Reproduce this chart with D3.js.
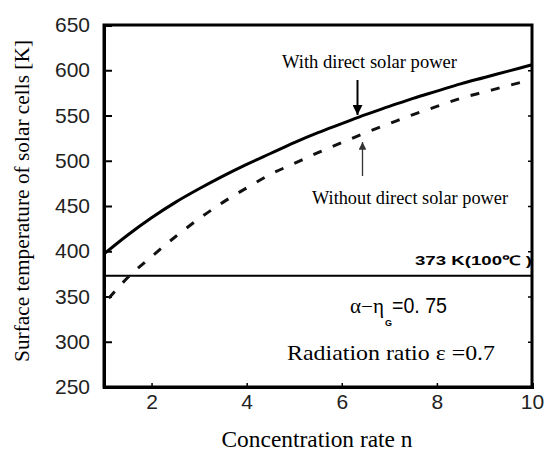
<!DOCTYPE html>
<html>
<head>
<meta charset="utf-8">
<script src="https://cdn.jsdelivr.net/npm/d3@7/dist/d3.min.js"></script>
<style>
  html, body { margin: 0; padding: 0; background: #fff; }
  svg { display: block; }
</style>
</head>
<body>
<svg id="chart" width="544" height="452"></svg>
<script>
// ---- data ----
const nWith = [1, 1.5, 2, 2.5, 3, 3.5, 4, 4.5, 5, 5.5, 6, 6.5, 7, 7.5, 8, 8.5, 9, 9.5, 10];
const tempWith = [397, 418, 437, 454, 469, 483, 496, 508, 520, 531, 541, 551, 560, 569, 577, 585, 592, 599, 606];
const nWithout = [1.1, 1.5, 2, 2.5, 3, 3.5, 4, 4.5, 5, 5.5, 6, 6.5, 7, 7.5, 8, 8.5, 9, 9.5, 9.8];
const tempWithout = [348, 371, 394, 416, 436, 454, 470, 485, 497, 509, 520, 531, 541, 551, 560, 569, 576, 583, 587];
const refTemp = 373;
const xTicks = [2, 4, 6, 8, 10];
const yTicks = [250, 300, 350, 400, 450, 500, 550, 600, 650];
const xDomain = [1, 10];
const yDomain = [250, 650];

// ---- layout ----
const svg = d3.select("#chart");
const x = d3.scaleLinear().domain(xDomain).range([104, 532]);
const y = d3.scaleLinear().domain(yDomain).range([387, 25]);
const sans = "'Liberation Sans', Arial, sans-serif";
const serif = "'Liberation Serif', 'Times New Roman', serif";

// frame
svg.append("rect")
  .attr("x", x(xDomain[0])).attr("y", y(yDomain[1]))
  .attr("width", x(xDomain[1]) - x(xDomain[0]))
  .attr("height", y(yDomain[0]) - y(yDomain[1]))
  .attr("fill", "none").attr("stroke", "#000").attr("stroke-width", 3);

// left axis
const yAxis = svg.append("g")
  .attr("transform", `translate(${x(xDomain[0])},0)`)
  .call(d3.axisLeft(y).tickValues(yTicks).tickSize(-8).tickPadding(14).tickFormat(d3.format("d")));
yAxis.select(".domain").attr("stroke-width", 3);
yAxis.selectAll(".tick line").attr("stroke-width", 2);
yAxis.selectAll("text").attr("font-family", sans).attr("font-size", 21).attr("fill", "#222");

// right ticks
const rAxis = svg.append("g")
  .attr("transform", `translate(${x(xDomain[1])},0)`)
  .call(d3.axisRight(y).tickValues(yTicks.slice(1, -1)).tickSize(-4).tickFormat(""));
rAxis.select(".domain").remove();
rAxis.selectAll(".tick line").attr("stroke-width", 1.5);

// bottom axis
const xAxis = svg.append("g")
  .attr("transform", `translate(0,${y(yDomain[0])})`)
  .call(d3.axisBottom(x).tickValues(xTicks).tickSize(-4).tickPadding(7).tickFormat(d3.format("d")));
xAxis.select(".domain").attr("stroke-width", 3);
xAxis.selectAll(".tick line").attr("stroke-width", 1.5);
xAxis.selectAll("text").attr("font-family", sans).attr("font-size", 21).attr("fill", "#222");

// reference line 373 K
svg.append("line")
  .attr("x1", x(xDomain[0])).attr("x2", x(xDomain[1]))
  .attr("y1", y(refTemp)).attr("y2", y(refTemp))
  .attr("stroke", "#000").attr("stroke-width", 2);

// curves
const line = d3.line().x(d => x(d[0])).y(d => y(d[1])).curve(d3.curveMonotoneX);
svg.append("path")
  .datum(nWith.map((n, i) => [n, tempWith[i]]))
  .attr("d", line).attr("fill", "none")
  .attr("stroke", "#000").attr("stroke-width", 3);
svg.append("path")
  .datum(nWithout.map((n, i) => [n, tempWithout[i]]))
  .attr("d", line).attr("fill", "none")
  .attr("stroke", "#111").attr("stroke-width", 3)
  .attr("stroke-dasharray", "9,12");

// arrows
const defs = svg.append("defs");
defs.append("marker").attr("id", "ahBlack").attr("viewBox", "0 0 10 10")
  .attr("refX", 10).attr("refY", 5).attr("markerWidth", 5).attr("markerHeight", 5)
  .attr("markerUnits", "strokeWidth").attr("orient", "auto")
  .append("path").attr("d", "M0,0 L10,5 L0,10 z").attr("fill", "#000");
defs.append("marker").attr("id", "ahGray").attr("viewBox", "0 0 10 10")
  .attr("refX", 10).attr("refY", 5).attr("markerWidth", 7).attr("markerHeight", 6)
  .attr("markerUnits", "strokeWidth").attr("orient", "auto")
  .append("path").attr("d", "M0,0 L10,5 L0,10 z").attr("fill", "#333");

svg.append("line")
  .attr("x1", 357.5).attr("x2", 357.5).attr("y1", 80).attr("y2", 115)
  .attr("stroke", "#000").attr("stroke-width", 2).attr("marker-end", "url(#ahBlack)");
svg.append("line")
  .attr("x1", 362.5).attr("x2", 362.5).attr("y1", 176).attr("y2", 142)
  .attr("stroke", "#333").attr("stroke-width", 1.3).attr("marker-end", "url(#ahGray)");

// annotations
svg.append("text").attr("x", 282).attr("y", 68)
  .attr("font-family", serif).attr("font-size", 18).attr("textLength", 175)
  .attr("lengthAdjust", "spacingAndGlyphs").text("With direct solar power");
svg.append("text").attr("x", 312).attr("y", 204)
  .attr("font-family", serif).attr("font-size", 18).attr("textLength", 196)
  .attr("lengthAdjust", "spacingAndGlyphs").text("Without direct solar power");

svg.append("text").attr("x", 415).attr("y", 265)
  .attr("font-family", sans).attr("font-size", 13).attr("font-weight", "bold")
  .attr("textLength", 117).attr("lengthAdjust", "spacingAndGlyphs")
  .text("373 K(100\u2103 )");

svg.append("text").attr("x", 350).attr("y", 313)
  .attr("font-family", serif).attr("font-size", 20)
  .attr("textLength", 34).attr("lengthAdjust", "spacingAndGlyphs")
  .text("\u03b1\u2212\u03b7");
svg.append("text").attr("x", 385).attr("y", 326)
  .attr("font-family", sans).attr("font-size", 9).attr("font-weight", "bold")
  .text("G");
svg.append("text").attr("x", 392).attr("y", 313)
  .attr("font-family", sans).attr("font-size", 22)
  .attr("textLength", 55).attr("lengthAdjust", "spacingAndGlyphs")
  .text("=0. 75");

svg.append("text").attr("x", 287).attr("y", 360)
  .attr("font-family", serif).attr("font-size", 21)
  .attr("textLength", 208).attr("lengthAdjust", "spacingAndGlyphs")
  .text("Radiation ratio  \u03b5 =0.7");

// axis titles
svg.append("text").attr("x", 317).attr("y", 447)
  .attr("text-anchor", "middle")
  .attr("font-family", serif).attr("font-size", 23)
  .attr("textLength", 191).attr("lengthAdjust", "spacingAndGlyphs")
  .text("Concentration rate n");
svg.append("text")
  .attr("transform", "translate(29,201) rotate(-90)")
  .attr("text-anchor", "middle")
  .attr("font-family", serif).attr("font-size", 21)
  .attr("textLength", 322).attr("lengthAdjust", "spacingAndGlyphs")
  .text("Surface temperature of solar cells [K]");
</script>
</body>
</html>
